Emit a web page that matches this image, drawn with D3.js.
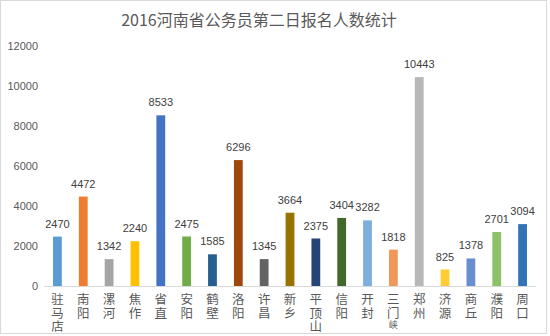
<!DOCTYPE html>
<html><head><meta charset="utf-8">
<script src="https://cdn.jsdelivr.net/npm/d3@7"></script>
<style>body{margin:0;background:#fff;}svg{display:block;}</style>
</head><body>
<svg id="c" width="550" height="336"></svg>
<script>
const title = "2016河南省公务员第二日报名人数统计";
const categories = ["驻马店","南阳","漯河","焦作","省直","安阳","鹤壁","洛阳","许昌","新乡","平顶山","信阳","开封","三门峡","郑州","济源","商丘","濮阳","周口"];
const values = [2470,4472,1342,2240,8533,2475,1585,6296,1345,3664,2375,3404,3282,1818,10443,825,1378,2701,3094];
const colors = ["#5B9BD5","#ED7D31","#A5A5A5","#FFC000","#4472C4","#70AD47","#255E91","#9E480E","#636363","#997300","#264478","#43682B","#7CAFDD","#F1975A","#B7B7B7","#FFCD33","#698ED0","#8CC168","#3173B5"];
const yTicks = [0,2000,4000,6000,8000,10000,12000];

const svg = d3.select("#c");
svg.append("rect").attr("x",0.5).attr("y",0.5).attr("width",546).attr("height",333)
  .attr("fill","#fff").attr("stroke","#d9d9d9");

svg.append("text").attr("x",259).attr("y",26).attr("text-anchor","middle")
  .attr("font-family","'Noto Sans CJK SC', sans-serif").attr("font-size",16)
  .attr("fill","#595959").text(title);

const x = d3.scaleBand().domain(categories).range([44.5,535.5]).paddingInner(0.66).paddingOuter(0.33);
const y = d3.scaleLinear().domain([0,12000]).range([286,46]);

const yAxis = svg.append("g").attr("transform","translate(38,0)")
  .call(d3.axisLeft(y).tickValues(yTicks).tickSize(0).tickPadding(0).tickFormat(d3.format("d")));
yAxis.select(".domain").remove();
yAxis.selectAll("text").attr("font-family","'Liberation Sans', Arial, sans-serif").attr("font-size",11).attr("fill","#595959");

svg.selectAll("rect.bar").data(values).enter().append("rect").attr("class","bar")
  .attr("x",(d,i)=>x(categories[i])).attr("width",x.bandwidth())
  .attr("y",d=>y(d)).attr("height",d=>y(0)-y(d)).attr("fill",(d,i)=>colors[i]);

svg.append("line").attr("x1",44).attr("x2",536).attr("y1",286.5).attr("y2",286.5).attr("stroke","#d9d9d9");

svg.selectAll("text.val").data(values).enter().append("text").attr("class","val")
  .attr("x",(d,i)=>x(categories[i])+x.bandwidth()/2).attr("y",d=>y(d)-9)
  .attr("text-anchor","middle").attr("font-family","'Liberation Sans', Arial, sans-serif")
  .attr("font-size",11).attr("fill","#404040").text(d=>d);

svg.selectAll("text.cat").data(categories).enter().append("text").attr("class","cat")
  .attr("x",d=>x(d)+x.bandwidth()/2).attr("y",293)
  .attr("writing-mode","tb").style("writing-mode","vertical-rl").style("text-orientation","upright")
  .attr("letter-spacing",1)
  .attr("font-family","'Noto Sans CJK SC', sans-serif").attr("font-size",12.5).attr("fill","#595959")
  .each(function(d){
    const t = d3.select(this);
    if (d === "三门峡") {
      t.append("tspan").text("三门");
      t.append("tspan").attr("font-size",9).text("峡");
    } else {
      t.text(d);
    }
  });
</script>
</body></html>
